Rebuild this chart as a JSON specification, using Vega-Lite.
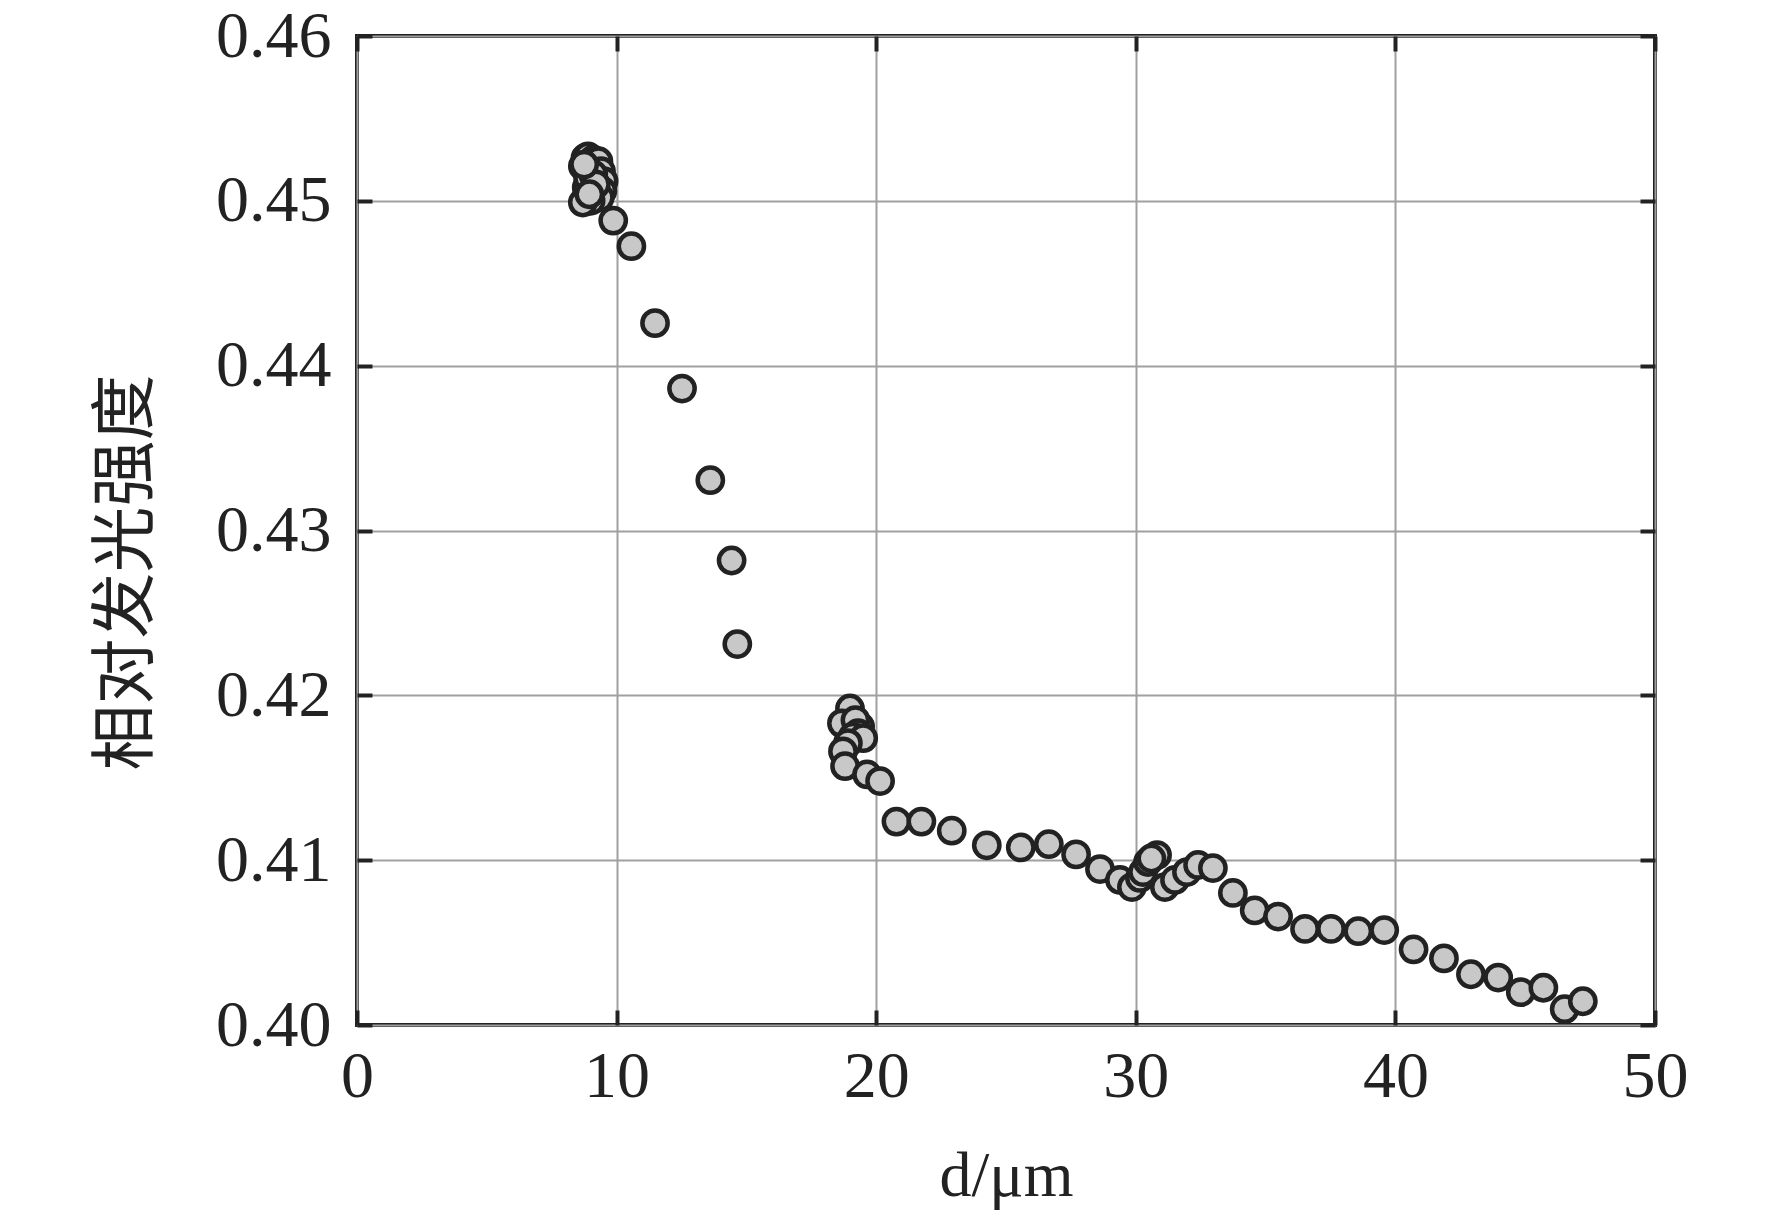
{
  "$schema": "https://vega.github.io/schema/vega-lite/v6.json",
  "width": 1298,
  "height": 989,
  "autosize": {"type": "none"},
  "padding": {"left": 357, "top": 36, "right": 117, "bottom": 187},
  "background": "white",
  "data": {
    "values": [
      {"d": 8.70, "I": 0.4521}, {"d": 8.80, "I": 0.4526}, {"d": 8.90, "I": 0.4527},
      {"d": 9.10, "I": 0.4525}, {"d": 9.30, "I": 0.4524}, {"d": 9.40, "I": 0.4518},
      {"d": 9.50, "I": 0.4512}, {"d": 9.45, "I": 0.4506}, {"d": 9.35, "I": 0.4502},
      {"d": 9.00, "I": 0.4500}, {"d": 8.70, "I": 0.4499}, {"d": 8.85, "I": 0.4508},
      {"d": 8.90, "I": 0.4514}, {"d": 9.10, "I": 0.4516}, {"d": 9.20, "I": 0.4510},
      {"d": 8.95, "I": 0.4504}, {"d": 8.75, "I": 0.4522},
      {"d": 9.87, "I": 0.4488}, {"d": 10.57, "I": 0.44725}, {"d": 11.48, "I": 0.44258},
      {"d": 12.52, "I": 0.43861}, {"d": 13.61, "I": 0.43305}, {"d": 14.43, "I": 0.42818},
      {"d": 14.65, "I": 0.42311},
      {"d": 18.99, "I": 0.4192}, {"d": 18.68, "I": 0.4183}, {"d": 19.38, "I": 0.4181},
      {"d": 19.20, "I": 0.4185}, {"d": 19.30, "I": 0.4177}, {"d": 19.10, "I": 0.4175},
      {"d": 19.50, "I": 0.4174}, {"d": 18.91, "I": 0.4171}, {"d": 18.72, "I": 0.4166},
      {"d": 18.80, "I": 0.4157}, {"d": 19.65, "I": 0.4152}, {"d": 20.15, "I": 0.4148},
      {"d": 20.78, "I": 0.41234}, {"d": 21.74, "I": 0.41234}, {"d": 22.91, "I": 0.41179},
      {"d": 24.26, "I": 0.41090}, {"d": 25.57, "I": 0.41077}, {"d": 26.65, "I": 0.41097},
      {"d": 27.70, "I": 0.41035}, {"d": 28.62, "I": 0.40946}, {"d": 29.39, "I": 0.40880},
      {"d": 29.85, "I": 0.40837}, {"d": 30.16, "I": 0.40892}, {"d": 30.28, "I": 0.40928},
      {"d": 30.47, "I": 0.40989}, {"d": 30.82, "I": 0.41031}, {"d": 30.60, "I": 0.41010},
      {"d": 31.12, "I": 0.40837}, {"d": 31.51, "I": 0.40880}, {"d": 31.97, "I": 0.40928},
      {"d": 32.40, "I": 0.40971}, {"d": 32.97, "I": 0.40952}, {"d": 33.74, "I": 0.40801},
      {"d": 34.58, "I": 0.40695}, {"d": 35.48, "I": 0.40658}, {"d": 36.52, "I": 0.40583},
      {"d": 37.52, "I": 0.40583}, {"d": 38.57, "I": 0.40569}, {"d": 39.57, "I": 0.40576},
      {"d": 40.70, "I": 0.40459}, {"d": 41.87, "I": 0.40404}, {"d": 42.91, "I": 0.40308},
      {"d": 43.96, "I": 0.40288}, {"d": 44.83, "I": 0.40199}, {"d": 45.70, "I": 0.40226},
      {"d": 46.52, "I": 0.40096}, {"d": 47.22, "I": 0.40144}
    ]
  },
  "layer": [
    {
      "mark": {"type": "point", "opacity": 0},
      "encoding": {
        "x": {
          "field": "d", "type": "quantitative",
          "scale": {"domain": [0, 50], "nice": false, "zero": false},
          "axis": {"orient": "top", "labels": false, "grid": false, "domain": false, "title": null,
                   "values": [0, 10, 20, 30, 40, 50], "tickSize": -15, "tickWidth": 4, "tickColor": "#222"}
        },
        "y": {
          "field": "I", "type": "quantitative",
          "scale": {"domain": [0.40, 0.46], "nice": false, "zero": false},
          "axis": {"orient": "right", "labels": false, "grid": false, "domain": false, "title": null,
                   "values": [0.40, 0.41, 0.42, 0.43, 0.44, 0.45, 0.46], "tickSize": -15, "tickWidth": 4, "tickColor": "#222"}
        }
      }
    },
    {
      "mark": {"type": "point", "filled": false, "fill": "#c8c8c8", "fillOpacity": 1, "stroke": "#222222", "strokeWidth": 4.5, "strokeOpacity": 1, "size": 640},
      "encoding": {
        "x": {
          "field": "d", "type": "quantitative",
          "scale": {"domain": [0, 50], "nice": false, "zero": false},
          "axis": {
            "orient": "bottom", "title": "d/μm", "values": [0, 10, 20, 30, 40, 50],
            "grid": true, "gridColor": "#a0a0a0", "gridWidth": 2,
            "domain": false, "tickSize": -15, "tickWidth": 4, "tickColor": "#222",
            "labelFont": "Liberation Serif", "labelFontSize": 66, "labelColor": "#222",
            "labelPadding": 34, "labelFlush": false,
            "titleFont": "Liberation Serif", "titleFontSize": 64, "titleFontWeight": "normal", "titleColor": "#222",
            "titleBaseline": "alphabetic", "titleY": 170
          }
        },
        "y": {
          "field": "I", "type": "quantitative",
          "scale": {"domain": [0.40, 0.46], "nice": false, "zero": false},
          "axis": {
            "orient": "left", "title": "相对发光强度", "values": [0.40, 0.41, 0.42, 0.43, 0.44, 0.45, 0.46],
            "format": ".2f",
            "grid": true, "gridColor": "#a0a0a0", "gridWidth": 2,
            "domain": false, "tickSize": -15, "tickWidth": 4, "tickColor": "#222",
            "labelFont": "Liberation Serif", "labelFontSize": 66, "labelColor": "#222",
            "labelPadding": 41, "labelFlush": false,
            "titleFont": "Noto Sans CJK SC", "titleFontSize": 66, "titleFontWeight": "normal", "titleColor": "#222",
            "titleAngle": -90, "titleAlign": "center", "titleBaseline": "middle",
            "titleX": -231, "titleY": 536
          }
        }
      }
    }
  ],
  "resolve": {"axis": {"x": "independent", "y": "independent"}},
  "config": {
    "view": {"stroke": "#222222", "strokeWidth": 4}
  }
}
